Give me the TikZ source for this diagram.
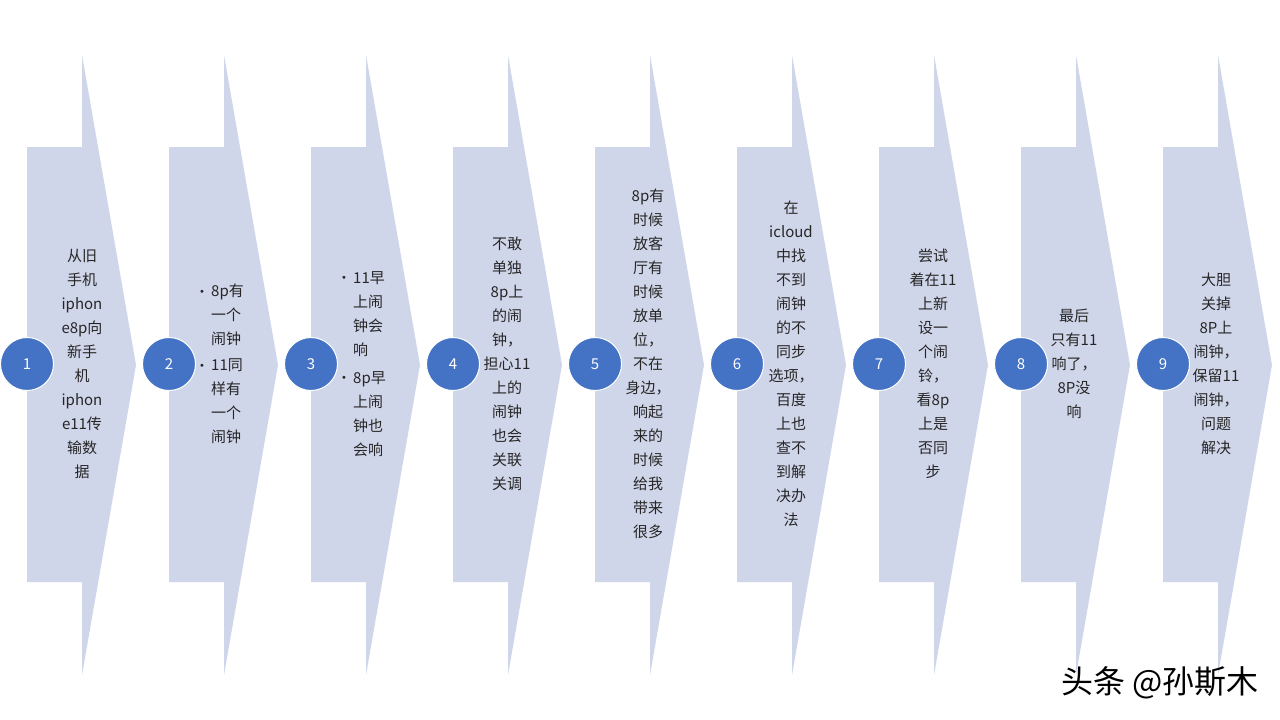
\documentclass[tikz,border=0pt]{standalone}
\usepackage{fontspec}
\setmainfont{Noto Sans CJK SC}
\newfontfamily\bulfont{DejaVu Sans}
\definecolor{chev}{HTML}{D0D6EA}
\definecolor{dotblue}{HTML}{4472C4}
\definecolor{txt}{HTML}{262626}
\newcommand{\bul}{\makebox[12pt][l]{\raisebox{1.5pt}{\bulfont\fontsize{10}{10}\selectfont •}}}
\newcommand{\ind}{\hspace*{12pt}}
\begin{document}
\begin{tikzpicture}[x=1pt,y=-1pt,
  chevfill/.style={fill=chev,draw=none},
  numdot/.style={circle,fill=dotblue,draw=white,line width=1pt,minimum size=53pt,inner sep=0pt,text=white,font=\fontsize{15}{18}\selectfont},
  steptext/.style={align=center,text=txt,font=\fontsize{15}{24}\selectfont,inner sep=0pt},
  bullettext/.style={align=left,text=txt,font=\fontsize{15}{24}\selectfont,inner sep=0pt,anchor=west}]
\useasboundingbox (0,0) rectangle (1280,720);
\fill[white] (0,0) rectangle (1280,720);
\foreach \i in {0,...,8}{
  \pgfmathsetmacro{\L}{27+142*\i}
  \fill[chevfill] (\L,147) -- (\L+55,147) -- (\L+55,55) -- (\L+109,365) -- (\L+55,675) -- (\L+55,582) -- (\L,582) -- cycle;
}
\node[numdot] (c1) at (27,364) {1};
\node[numdot] (c2) at (169,364) {2};
\node[numdot] (c3) at (311,364) {3};
\node[numdot] (c4) at (453,364) {4};
\node[numdot] (c5) at (595,364) {5};
\node[numdot] (c6) at (737,364) {6};
\node[numdot] (c7) at (879,364) {7};
\node[numdot] (c8) at (1021,364) {8};
\node[numdot] (c9) at (1163,364) {9};

\node[steptext] (t1) at (82,364) {从旧\\手机\\iphon\\e8p向\\新手\\机\\iphon\\e11传\\输数\\据};
\node[bullettext] (t2) at (199,364) {\bul 8p有\\\ind 一个\\\ind 闹钟\\[2pt]\bul 11同\\\ind 样有\\\ind 一个\\\ind 闹钟};
\node[bullettext] (t3) at (341,364) {\bul 11早\\\ind 上闹\\\ind 钟会\\\ind 响\\[4pt]\bul 8p早\\\ind 上闹\\\ind 钟也\\\ind 会响};
\node[steptext] (t4) at (507,364) {不敢\\单独\\8p上\\的闹\\钟，\\担心11\\上的\\闹钟\\也会\\关联\\关调};
\node[steptext] (t5) at (648,364) {8p有\\时候\\放客\\厅有\\时候\\放单\\位，\\不在\\身边，\\响起\\来的\\时候\\给我\\带来\\很多};
\node[steptext] (t6) at (791,364) {在\\icloud\\中找\\不到\\闹钟\\的不\\同步\\选项，\\百度\\上也\\查不\\到解\\决办\\法};
\node[steptext] (t7) at (933,364) {尝试\\着在11\\上新\\设一\\个闹\\铃，\\看8p\\上是\\否同\\步};
\node[steptext] (t8) at (1074,364) {最后\\只有11\\响了，\\8P没\\响};
\node[steptext] (t9) at (1216,364) {大胆\\关掉\\8P上\\闹钟，\\保留11\\闹钟，\\问题\\解决};

\node[text=black,font=\fontsize{32}{36}\selectfont,inner sep=0pt] (wm) at (1160,683) {头条 @孙斯木};
\end{tikzpicture}
\end{document}
